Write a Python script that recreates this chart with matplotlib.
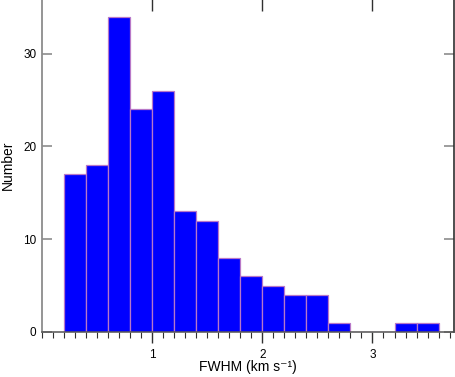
import matplotlib
matplotlib.use("Agg")
import matplotlib.pyplot as plt
import numpy as np
from matplotlib.ticker import MultipleLocator, FixedLocator

plt.rcParams['font.family'] = ['Liberation Sans', 'DejaVu Sans']

bin_edges = [0.2, 0.4, 0.6, 0.8, 1.0, 1.2, 1.4, 1.6, 1.8, 2.0, 2.2, 2.4, 2.6, 2.8, 3.0, 3.2, 3.4, 3.6]
counts = [17, 18, 34, 24, 26, 13, 12, 8, 6, 5, 4, 4, 1, 0, 0, 1, 1]
x_major = [1, 2, 3]
y_major = [0, 10, 20, 30]

W, H = 455, 377
fig = plt.figure(figsize=(W/100, H/100), dpi=100)
left, right = 42/W, 454/W
bottom = (H - 332)/H
top = (H + 2)/H
ax = fig.add_axes([left, bottom, right-left, top-bottom])

ax.hist(bin_edges[:-1], bins=bin_edges, weights=counts, color='#0000ff',
        edgecolor='#b878c8', linewidth=0.9)

ax.set_xlim(0, 3.74)
ax.set_ylim(0, 36)
ax.xaxis.set_major_locator(FixedLocator(x_major))
ax.xaxis.set_minor_locator(MultipleLocator(0.1))
ax.yaxis.set_major_locator(FixedLocator(y_major))
ax.yaxis.set_minor_locator(plt.NullLocator())

ax.spines['left'].set_color('#8c8c8c')
ax.spines['left'].set_linewidth(1.3)
ax.spines['bottom'].set_color('#555555')
ax.spines['bottom'].set_linewidth(1.1)
ax.spines['right'].set_color('#303030')
ax.spines['right'].set_linewidth(1.2)
ax.spines['top'].set_color('#303030')

ax.tick_params(axis='x', which='major', direction='out', length=8, width=1, color='#303030',
               top=True, labeltop=False, labelsize=8.5, pad=4)
ax.tick_params(axis='x', which='minor', direction='out', length=4, width=0.8, color='#303030', top=False)
ax.tick_params(axis='y', which='major', direction='in', length=7, width=1.2, color='#8c8c8c',
               right=True, labelsize=8.5, pad=4)

for t in ax.xaxis.get_major_ticks():
    t.tick2line.set_marker(3)  # TICKDOWN (inward at top)
    t.tick2line.set_markersize(9)

fig.text(248/W, 6/H, 'FWHM (km s\u207b\u00b9)', fontsize=10, ha='center', va='baseline')
fig.text(0.5/W, 0.5*(bottom + top), 'Number', fontsize=10, rotation=90, ha='left', va='center')

fig.savefig('out.png', dpi=100)
